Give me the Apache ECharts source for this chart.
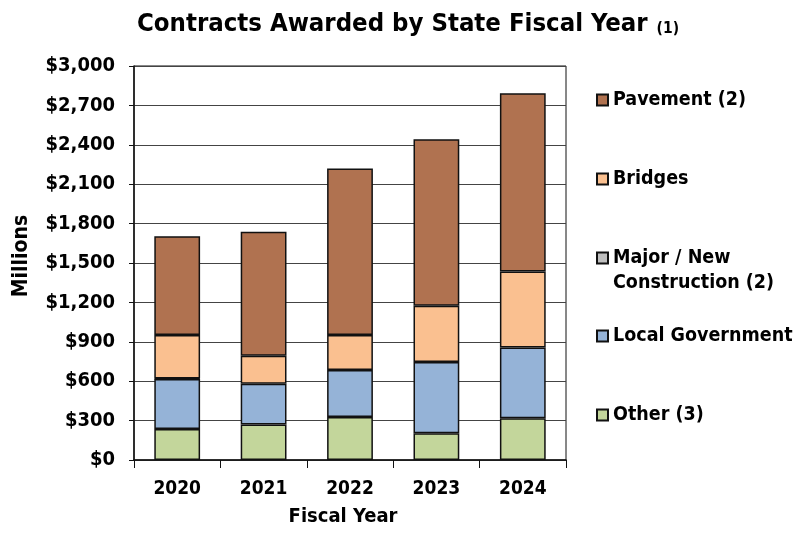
<!DOCTYPE html>
<html>
<head>
<meta charset="utf-8">
<script src="https://cdn.jsdelivr.net/npm/echarts@6/dist/echarts.min.js"></script>
<style>
  html, body { margin: 0; padding: 0; background: #fff; }
  #chart { width: 796px; height: 535px; }
</style>
</head>
<body>
<div id="chart"></div>
<script>
// Contract awards by state fiscal year, in millions of dollars
const fiscalYears = ['2020', '2021', '2022', '2023', '2024'];
const otherValues = [236, 271, 327, 203, 317];
const localGovValues = [380, 310, 358, 543, 540];
const majorNewValues = [4, 0, 0, 0, 0];
const bridgesValues = [331, 213, 266, 428, 579];
const pavementValues = [753, 943, 1268, 1268, 1356];
const yTicks = { min: 0, max: 3000, interval: 300 };

const FONT = '"DejaVu Sans Condensed", "DejaVu Sans", sans-serif';

const chart = echarts.init(document.getElementById('chart'), null, { renderer: 'canvas' });

// empty segments are left out so they do not leave a stray border
function barSeries(name, data, color) {
  return {
    name: name,
    type: 'bar',
    stack: 'total',
    data: data.map(v => (v === 0 ? null : v)),
    barWidth: '53%',
    itemStyle: { color: color, borderColor: '#111', borderWidth: 1.5 },
    emphasis: { disabled: true }
  };
}

const LINE_H = 25;
const legendRows = [
  { name: 'Pavement (2)', center: 100 },
  { name: 'Bridges', center: 179 },
  { name: 'Major / New Construction (2)', center: 258, twoLine: true },
  { name: 'Local Government', center: 336 },
  { name: 'Other (3)', center: 415 }
];

// the wrapped entry gets a blank leading line so its swatch sits beside the first line
const legendLabel = n => (n === 'Major / New Construction (2)' ? ' \nMajor / New\nConstruction (2)' : n);

chart.setOption({
  animation: false,
  backgroundColor: '#fff',
  title: {
    text: '{m|Contracts Awarded by State Fiscal Year} {s|(1)}',
    left: 132,
    top: 6,
    textStyle: {
      rich: {
        m: { fontFamily: FONT, fontWeight: 'bold', fontSize: 25.5, color: '#000' },
        s: { fontFamily: FONT, fontWeight: 'bold', fontSize: 15.5, color: '#000', verticalAlign: 'bottom', padding: [9, 0, 0, 4] }
      }
    }
  },
  legend: legendRows.map(r => ({
    data: [r.name],
    orient: 'vertical',
    left: 596,
    top: r.twoLine ? r.center - LINE_H * 1.5 : r.center - LINE_H / 2,
    padding: 0,
    icon: 'rect',
    itemWidth: 11,
    itemHeight: 11,
    itemGap: 0,
    selectedMode: false,
    formatter: legendLabel,
    textStyle: {
      fontFamily: FONT, fontWeight: 'bold', fontSize: 19.5, color: '#000', lineHeight: LINE_H
    }
  })),
  grid: {
    left: 134, top: 66, width: 432, height: 394,
    show: true, borderColor: '#111', borderWidth: 1, backgroundColor: 'transparent'
  },
  xAxis: {
    type: 'category',
    data: fiscalYears,
    name: 'Fiscal Year',
    nameLocation: 'middle',
    nameGap: 47,
    nameTextStyle: { fontFamily: FONT, fontWeight: 'bold', fontSize: 20, color: '#000', padding: [0, 14, 0, 0] },
    axisLine: { lineStyle: { color: '#111', width: 1.5 } },
    axisTick: { show: true, alignWithLabel: false, length: 8, lineStyle: { color: '#111' } },
    axisLabel: { fontFamily: FONT, fontWeight: 'bold', fontSize: 19, color: '#000', margin: 20 }
  },
  yAxis: {
    type: 'value',
    min: yTicks.min,
    max: yTicks.max,
    interval: yTicks.interval,
    name: 'Millions',
    nameLocation: 'middle',
    nameGap: 102,
    nameRotate: 90,
    nameTextStyle: { fontFamily: FONT, fontWeight: 'bold', fontSize: 21, color: '#000', padding: [0, 0, 0, 14] },
    axisLine: { show: true, lineStyle: { color: '#111', width: 1.5 } },
    axisTick: { show: true, inside: false, length: 5, lineStyle: { color: '#111' } },
    axisLabel: {
      fontFamily: FONT, fontWeight: 'bold', fontSize: 20, color: '#000', margin: 19,
      formatter: v => '$' + v.toLocaleString('en-US')
    },
    splitLine: { show: true, lineStyle: { color: '#444', width: 1.2 } }
  },
  series: [
    barSeries('Other (3)', otherValues, '#c3d69b'),
    barSeries('Local Government', localGovValues, '#95b3d7'),
    barSeries('Major / New Construction (2)', majorNewValues, '#bfbfbf'),
    barSeries('Bridges', bridgesValues, '#fac090'),
    barSeries('Pavement (2)', pavementValues, '#b07250')
  ]
});
</script>
</body>
</html>
